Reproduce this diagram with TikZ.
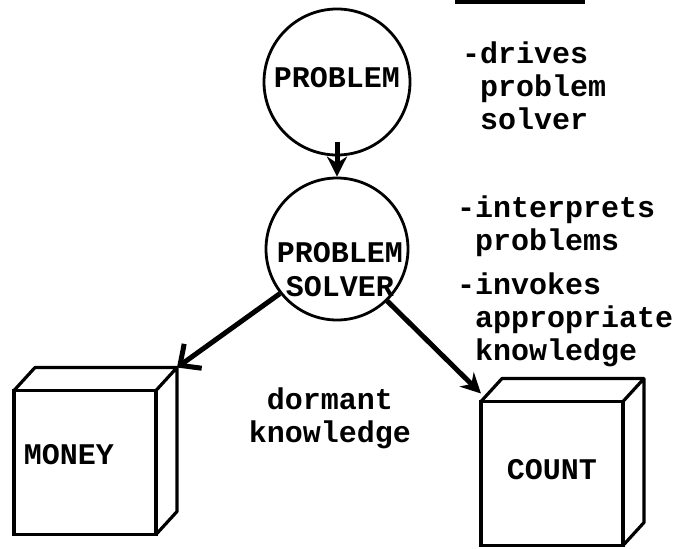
\documentclass[tikz,border=0pt]{standalone}
\usepackage{fontspec}
\newfontfamily\typewriter{Liberation Mono}
\usetikzlibrary{arrows.meta}
\newcommand{\ind}{\hphantom{-}}

\begin{document}
\begin{tikzpicture}[x=1pt, y=-1pt,
  every node/.style={font=\typewriter\bfseries\fontsize{30}{33}\selectfont, inner sep=0pt},
  ring/.style={draw, circle, line width=2.8pt},
  crate/.style={draw, line width=3.2pt, outer sep=0pt, minimum width=142pt, minimum height=144pt},
  crateline/.style={line width=3.2pt, line join=round},
  note/.style={align=left, anchor=north west},
  edge/.style={-{Stealth[length=20pt, width=20pt]}, line width=5pt},
  barb/.style={-{Straight Barb[length=16pt, width=30pt]}, line width=5pt}]
  \path[use as bounding box, fill=white] (0,0) rectangle (678,549);
  \draw[line width=4pt] (455,1.5) -- (585,1.5);

  \node[ring, minimum size=146pt, text depth=10pt] (problem) at (337,82) {PROBLEM};
  \node[ring, minimum size=142pt] (solver) at (337,249) {};
  \node[align=center, font=\typewriter\bfseries\fontsize{30}{34}\selectfont] (solvertext) at (340,270) {PROBLEM\\SOLVER};

  \node[crate] (money) at (85,462.5) {};
  \node[crate] (count) at (552,473.5) {};
  \foreach \b in {money,count}
    \draw[crateline] (\b.north west) -- ++(21,-23) -- ++(142,0) coordinate (\b-corner) -- ++(0,144) -- (\b.south east)
      (\b.north east) -- ++(21,-23);
  \node (moneytext) at (69,455) {MONEY};
  \node (counttext) at (552,470) {COUNT};

  \draw[edge] ([yshift=14pt]problem.south) -- (solver.north);
  \draw[barb] (solver.218) -- (money-corner);
  \draw[edge] (solver.-46) -- ([yshift=8pt]count.north west);

  \node[note] (drives) at (462,42) {-drives\\\ind problem\\\ind solver};
  \node[note] (interprets) at (457,196) {-interprets\\\ind problems};
  \node[note] (invokes) at (457,273) {-invokes\\\ind appropriate\\\ind knowledge};
  \node[align=center] (dormant) at (330,418) {dormant\\knowledge};
\end{tikzpicture}
\end{document}
